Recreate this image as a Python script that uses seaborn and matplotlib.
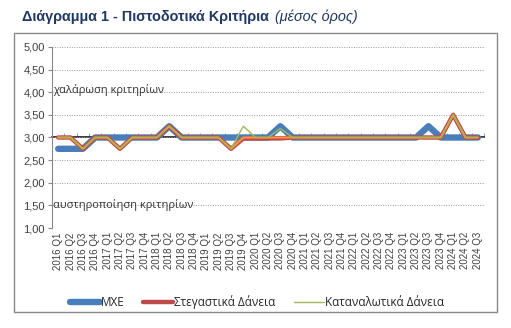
import matplotlib
matplotlib.use("Agg")
import matplotlib.pyplot as plt
import seaborn as sns
import pandas as pd
import numpy as np
from matplotlib.lines import Line2D
from matplotlib.patches import Rectangle

years = [2016]*4 + [2017]*4 + [2018]*4 + [2019]*4 + [2020]*4 + [2021]*4 + [2022]*4 + [2023]*4 + [2024]*3
quarters = ["Q1", "Q2", "Q3", "Q4"] * 8 + ["Q1", "Q2", "Q3"]
labels = [f"{y} {q}" for y, q in zip(years, quarters)]

mxe = [2.75, 2.75, 2.75, 3.0, 3.0, 3.0, 3.0, 3.0, 3.0, 3.25, 3.0, 3.0,
       3.0, 3.0, 3.0, 3.0, 3.0, 3.0, 3.25, 3.0, 3.0, 3.0, 3.0, 3.0,
       3.0, 3.0, 3.0, 3.0, 3.0, 3.0, 3.25, 3.0, 3.0, 3.0, 3.0]
housing = [3.0, 3.0, 2.75, 3.0, 3.0, 2.75, 3.0, 3.0, 3.0, 3.25, 3.0, 3.0,
           3.0, 3.0, 2.75, 2.98, 2.98, 2.98, 2.98, 3.0, 3.0, 3.0, 3.0, 3.0,
           3.0, 3.0, 3.0, 3.0, 3.0, 3.0, 3.0, 3.0, 3.5, 3.0, 3.0]
other = [3.0, 3.0, 2.75, 3.0, 3.0, 2.75, 3.0, 3.0, 3.0, 3.25, 3.0, 3.0,
         3.0, 3.0, 2.75, 3.0, 3.0, 3.0, 3.0, 3.0, 3.0, 3.0, 3.0, 3.0,
         3.0, 3.0, 3.0, 3.0, 3.0, 3.0, 3.0, 3.0, 3.5, 3.0, 3.0]
consumer = [3.0, 3.0, 2.75, 3.0, 3.0, 2.75, 3.0, 3.0, 3.0, 3.25, 3.0, 3.0,
            3.0, 3.0, 2.75, 3.25, 3.0, 3.0, 3.2, 3.0, 3.0, 3.0, 3.0, 3.0,
            3.0, 3.0, 3.0, 3.0, 3.0, 3.0, 3.0, 3.0, 3.5, 3.0, 3.0]

yticks = [1.0, 1.5, 2.0, 2.5, 3.0, 3.5, 4.0, 4.5, 5.0]

sns.set_theme(style="white")
plt.rcParams['font.family'] = ['Liberation Sans', 'DejaVu Sans']

fig = plt.figure(figsize=(5.11, 3.28), dpi=100)
ax = fig.add_axes([52/511, 1-228/328, (484-52)/511, (228-47)/328])

idx = np.arange(len(labels))
df = pd.DataFrame({"i": idx, "mxe": mxe, "housing": housing, "other": other, "consumer": consumer})

blue = "#4a7ebb"
red = "#be4b48"
orange = "#f79646"
green = "#9bbb59"

sns.lineplot(data=df, x="i", y="mxe", ax=ax, color=blue, lw=4.6, solid_capstyle="round", zorder=3)
sns.lineplot(data=df, x="i", y="housing", ax=ax, color=red, lw=3.2, zorder=4)
sns.lineplot(data=df, x="i", y="other", ax=ax, color=orange, lw=1.5, zorder=5)
sns.lineplot(data=df, x="i", y="consumer", ax=ax, color=green, lw=1.0, zorder=6)

ax.set_xlim(-0.5, len(labels) - 0.5)
ax.set_ylim(1.0, 5.0)
ax.set_yticks(yticks)
ax.set_yticklabels([f"{v:.2f}".replace(".", ",") for v in yticks], fontsize=8, color="#404040")
ax.set_xticks(idx)
ax.set_xticklabels(labels, rotation=90, fontsize=7, color="#404040")
ax.set_xlabel("")
ax.set_ylabel("")
ax.tick_params(axis="x", length=0, pad=3)
ax.tick_params(axis="y", length=3, width=0.8, color="#888888", direction="out", pad=2, left=True)

for s in ["top", "right", "bottom"]:
    ax.spines[s].set_visible(False)
ax.spines["left"].set_color("#888888")
ax.spines["left"].set_linewidth(0.8)

ax.grid(axis="y", linestyle=(0, (1, 1.5)), color="#999999", lw=0.7)
ax.grid(axis="x", visible=False)
ax.set_axisbelow(True)

sec = ax.secondary_xaxis(0.5)
sec.set_xticks(np.arange(-0.5, len(labels), 1))
sec.set_xticklabels([])
sec.tick_params(axis="x", length=3, width=0.6, color="#888888", direction="out")
sec.spines["bottom"].set_color("#888888")
sec.spines["bottom"].set_linewidth(0.9)

ax.text(-0.42, 4.05, "χαλάρωση κριτηρίων", fontsize=8, color="#333333", va="center", ha="left",
        zorder=7, family=['Open Sans', 'DejaVu Sans'])
ax.text(-0.45, 1.5, "αυστηροποίηση κριτηρίων", fontsize=8, color="#333333", va="center", ha="left",
        zorder=7, family=['Open Sans', 'DejaVu Sans'], clip_on=False)

handles = [Line2D([], [], color=blue, lw=4.6),
           Line2D([], [], color=red, lw=3.2),
           Line2D([], [], color=green, lw=1.0)]
fig.legend(handles, ["MXE", "Στεγαστικά Δάνεια", "Καταναλωτικά Δάνεια"],
           loc="center", bbox_to_anchor=(257/511, 1-302/328), ncol=3, frameon=False,
           handlelength=2.5, handletextpad=0.1, columnspacing=1.6,
           prop={'family': ['Open Sans', 'DejaVu Sans'], 'size': 8.5})

fig.patches.append(Rectangle((14/511, 1-312/328), (497-14)/511, (312-33)/328,
                             transform=fig.transFigure, fill=False, edgecolor="#888888", lw=1.0))

t1 = fig.text(22/511, 1-17/328, "Διάγραμμα 1 - Πιστοδοτικά Κριτήρια", fontsize=10.4, fontweight="bold",
              color="#1f3864", va="center", ha="left")
fig.canvas.draw()
bb = t1.get_window_extent()
fig.text((bb.x1 + 6)/511, 1-17/328, "(μέσος όρος)", fontsize=10.4, style="italic",
         color="#1f3864", va="center", ha="left")

fig.savefig("out.png", dpi=100, facecolor="white")
